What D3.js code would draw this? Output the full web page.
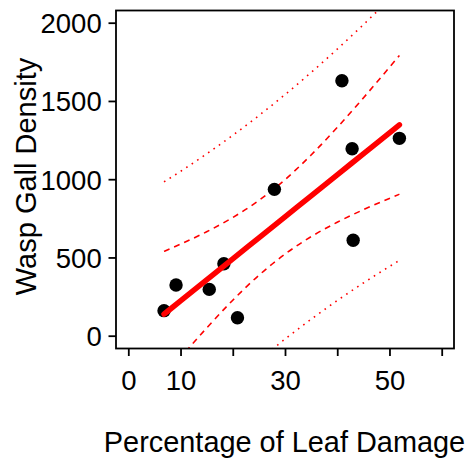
<!DOCTYPE html>
<html><head><meta charset="utf-8">
<script src="https://cdn.jsdelivr.net/npm/d3@7"></script>
<style>body{margin:0;background:#fff}svg{display:block}text{font-family:"Liberation Sans",Arial,sans-serif;fill:#000}</style>
</head><body><div id="chart"></div>
<script>
// observed points
const damage = [6.84, 9.14, 15.5, 18.3, 20.9, 27.97, 40.9, 42.85, 43.05, 51.9];
const galls  = [160, 324, 296, 460, 115, 935, 1629, 1195, 610, 1261];
// fitted line and bands
const bandX  = [6.84, 10, 15, 20, 25, 30, 35, 40, 45, 51.9];
const fitY   = [137.5, 222.3, 356.6, 491.0, 625.1, 759.3, 893.6, 1027.8, 1162.1, 1347.3];
const ciLo   = [-263.8, -140.3, 49.0, 226.7, 386.0, 521.4, 632.6, 724.9, 805.0, 903.8];
const ciHi   = [538.8, 584.9, 664.2, 755.3, 864.2, 997.2, 1154.6, 1330.7, 1519.2, 1790.8];
const piLo   = [-707.9, -605.5, -448.6, -298.6, -156.5, -21.9, 105.1, 224.4, 336.7, 481.1];
const piHi   = [982.9, 1050.1, 1161.8, 1280.6, 1406.7, 1540.5, 1682.1, 1831.2, 1987.5, 2213.5];
const xTicks = [0, 10, 20, 30, 40, 50, 60];
const xLabels = [0, 10, 30, 50];
const yTicks = [0, 500, 1000, 1500, 2000];
const xTitle = "Percentage of Leaf Damage";
const yTitle = "Wasp Gall Density";

const W = 470, H = 458;
const box = {l: 116, r: 454, t: 10.5, b: 348.5};
const x = d3.scaleLinear().domain([0, 60]).range([128.3, 441.7]);
const y = d3.scaleLinear().domain([0, 2000]).range([335.7, 22.7]);

const svg = d3.select("#chart").append("svg").attr("width", W).attr("height", H);
svg.append("defs").append("clipPath").attr("id", "clip")
  .append("rect").attr("x", box.l).attr("y", box.t).attr("width", box.r - box.l).attr("height", box.b - box.t);

const g = svg.append("g").attr("clip-path", "url(#clip)");
const mk = arr => d3.line().x((d, i) => x(bandX[i])).y(d => y(d)).curve(d3.curveMonotoneX)(arr);

[[ciLo, "6,5"], [ciHi, "6,5"], [piLo, "1.6,5"], [piHi, "1.6,5"]].forEach(([arr, dash]) => {
  g.append("path").attr("d", mk(arr)).attr("fill", "none").attr("stroke", "#ff0000")
    .attr("stroke-width", 1.6).attr("stroke-dasharray", dash);
});

g.selectAll("circle").data(damage).join("circle")
  .attr("cx", d => x(d)).attr("cy", (d, i) => y(galls[i])).attr("r", 6.7).attr("fill", "#000");

g.append("path").attr("d", mk(fitY)).attr("fill", "none").attr("stroke", "#ff0000")
  .attr("stroke-width", 5.5).attr("stroke-linecap", "round");

svg.append("rect").attr("x", box.l).attr("y", box.t).attr("width", box.r - box.l).attr("height", box.b - box.t)
  .attr("fill", "none").attr("stroke", "#000").attr("stroke-width", 1.8);

// axes
const xa = svg.append("g").attr("transform", `translate(0,${box.b})`)
  .call(d3.axisBottom(x).tickValues(xTicks).tickSize(7.5).tickFormat(d => xLabels.includes(d) ? d : ""));
xa.select(".domain").remove();
xa.selectAll("line").attr("stroke", "#000").attr("stroke-width", 1.8);
xa.selectAll("text").attr("font-size", 27.5).attr("dy", null).attr("y", 41.5).attr("font-family", "Liberation Sans, Arial, sans-serif");

const ya = svg.append("g").attr("transform", `translate(${box.l},0)`)
  .call(d3.axisLeft(y).tickValues(yTicks).tickSize(7.5).tickFormat(d3.format("d")));
ya.select(".domain").remove();
ya.selectAll("line").attr("stroke", "#000").attr("stroke-width", 1.8);
ya.selectAll("text").attr("font-size", 27.5).attr("x", -14.3).attr("dy", "0.36em").attr("font-family", "Liberation Sans, Arial, sans-serif");

svg.append("text").attr("x", 284.5).attr("y", 451.7).attr("text-anchor", "middle")
  .attr("font-size", 28.9).text(xTitle);
svg.append("text").attr("transform", `translate(35.5,176.5) rotate(-90)`)
  .attr("text-anchor", "middle").attr("font-size", 29).text(yTitle);
</script></body></html>
